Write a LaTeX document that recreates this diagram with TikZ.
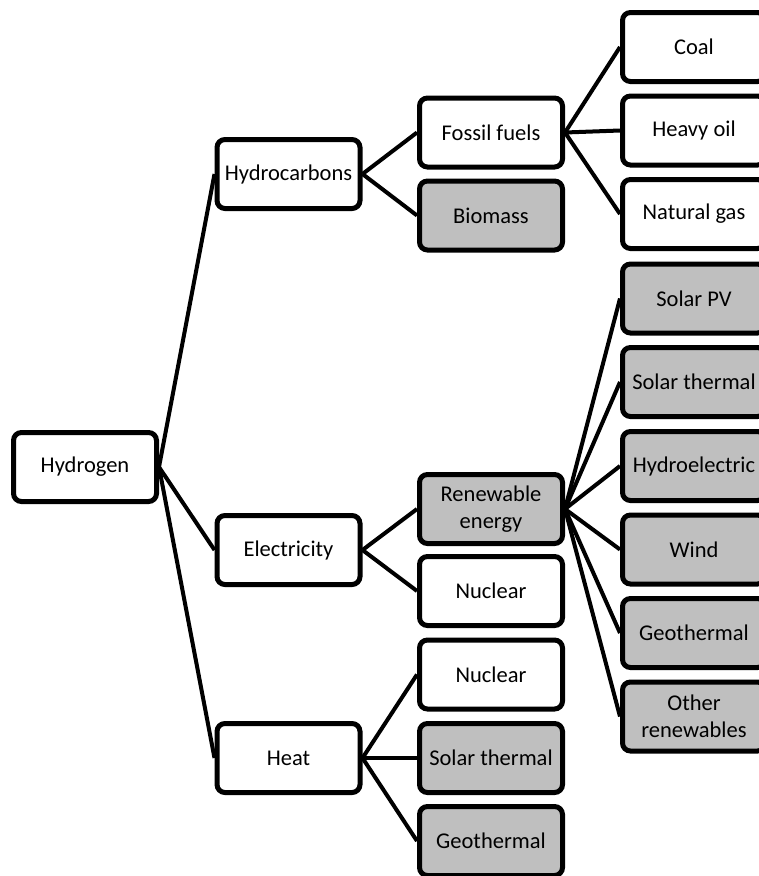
\documentclass[tikz,border=0pt]{standalone}
\usepackage{fontspec}
\setmainfont{Carlito}
\definecolor{boxgray}{RGB}{191,191,191}
\begin{document}
\begin{tikzpicture}[x=1pt,y=-1pt,
  box/.style={draw=black, line width=5pt, rounded corners=8pt,
    minimum width=143pt, minimum height=69pt, inner sep=0pt,
    align=center, font=\fontsize{22.5}{27}\selectfont, fill=white},
  gbox/.style={box, fill=boxgray},
  link/.style={draw=black, line width=4pt}]
\useasboundingbox (0,0) rectangle (759,876);
\clip (0,0) rectangle (759,876);
% column 1
\node[box] (hyd) at (85,467) {Hydrogen};
% column 2
\node[box] (hc) at (288.5,174) {Hydrocarbons};
\node[box] (el) at (288.5,550) {Electricity};
\node[box] (ht) at (288.5,758) {Heat};
% column 3
\node[box]  (ff) at (491,132.5) {Fossil fuels};
\node[gbox] (bm) at (491,215.5) {Biomass};
\node[gbox] (re) at (491,509) {Renewable\\energy};
\node[box]  (nue) at (491,591) {Nuclear};
\node[box]  (nuh) at (491,674.5) {Nuclear};
\node[gbox] (sth) at (491,758) {Solar thermal};
\node[gbox] (geh) at (491,841) {Geothermal};
% column 4
\node[box]  (coal) at (694,47) {Coal};
\node[box]  (oil) at (694,130.5) {Heavy oil};
\node[box]  (gas) at (694,214) {Natural gas};
\node[gbox] (pv) at (694,298.5) {Solar PV};
\node[gbox] (st) at (694,382) {Solar thermal};
\node[gbox] (hy) at (694,466) {Hydroelectric};
\node[gbox] (wi) at (694,549.5) {Wind};
\node[gbox] (ge) at (694,633) {Geothermal};
\node[gbox] (ot) at (694,716.5) {Other\\renewables};
% connectors
\foreach \c in {hc,el,ht} \draw[link] (hyd.east) -- (\c.west);
\foreach \c in {ff,bm} \draw[link] (hc.east) -- (\c.west);
\foreach \c in {re,nue} \draw[link] (el.east) -- (\c.west);
\foreach \c in {nuh,sth,geh} \draw[link] (ht.east) -- (\c.west);
\foreach \c in {coal,oil,gas} \draw[link] (ff.east) -- (\c.west);
\foreach \c in {pv,st,hy,wi,ge,ot} \draw[link] (re.east) -- (\c.west);
\end{tikzpicture}
\end{document}
